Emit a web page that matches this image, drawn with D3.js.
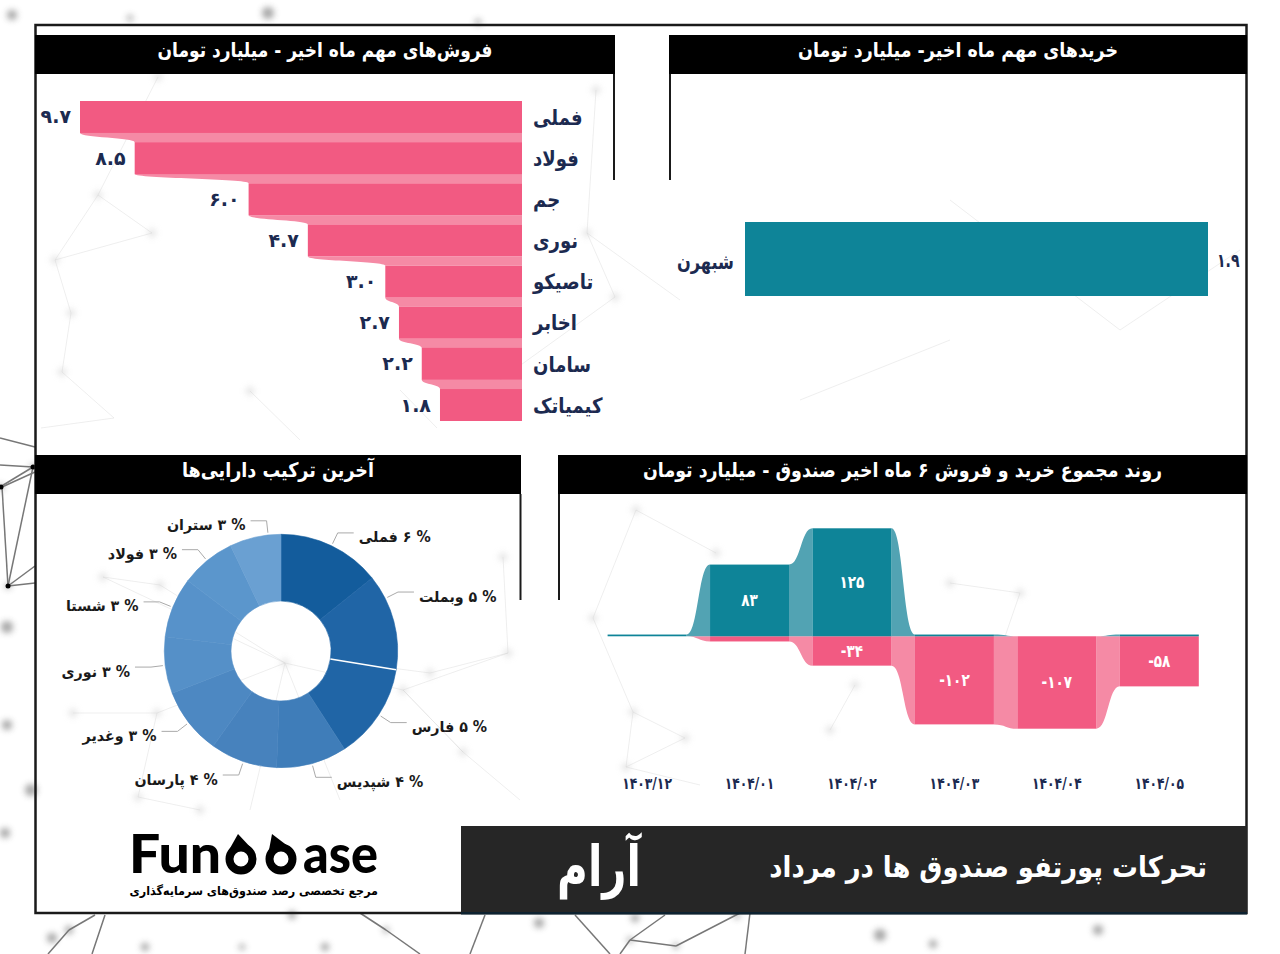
<!DOCTYPE html>
<html>
<head>
<meta charset="utf-8">
<script src="https://cdn.jsdelivr.net/npm/d3@7"></script>
<style>
  body { margin: 0; background: #fff; }
  svg { display: block; font-family: "DejaVu Sans", sans-serif; }
  text { direction: rtl; }
  .ltr { direction: ltr; }
</style>
</head>
<body>
<svg id="chart" width="1280" height="954"></svg>
<script>
// sales panel
var saleNames = ["فملی", "فولاد", "جم", "نوری", "تاصیکو", "اخابر", "سامان", "کیمیاتک"];
var saleValues = [9.7, 8.5, 6.0, 4.7, 3.0, 2.7, 2.2, 1.8];

// purchases panel
var buyNames = ["شبهرن"];
var buyValues = [1.9];

// portfolio donut
var assetNames = ["فملی", "وبملت", "فارس", "شپدیس", "پارسان", "وغدیر", "نوری", "شستا", "فولاد", "ستران"];
var assetValues = [6.0, 5.6, 5.6, 4.1, 3.9, 3.9, 3.3, 3.5, 3.2, 3.0];
var assetLabels = [6, 5, 5, 4, 4, 3, 3, 3, 3, 3];
var assetColors = ["#135c9c", "#2065a6", "#2065a6", "#3f7db9", "#4782bd", "#4d88c2", "#5590c8", "#5792ca", "#5b96cc", "#6aa0d2"];
var leaderNudge = [0, -12, 0, 0, 0, 0, 0, 0, 0, 6.5];

// six month trend
var months = ["1403/12", "1404/01", "1404/02", "1404/03", "1404/04", "1404/05"];
var trendBuy = [2, 83, 125, 2, 0, 2];
var trendSell = [0, -6, -34, -102, -107, -58];

// background decoration, dark part outside the frame
var bgDark = [[33,467,0,487],[33,467,8,586],[2,487,8,586],[8,586,35,583],[0,465,33,467],[8,586,35,566],[2,487,35,472],[0,438,35,447],
  [69,930,95,915],[69,930,48,954],[92,954,105,915],[630,940,676,946],[630,940,665,915],[620,954,630,940],[676,946,740,913],[386,930,360,913],[386,930,420,954],[470,954,485,915],[610,954,575,915],[745,954,750,913]];
var bgDots = [[33,467,3],[1,487,3],[8,586,3],[7,627,6],[7,725,5],[31,790,6],[5,833,5],[52,938,5],[69,930,4],[292,915,4],[386,930,3],[539,923,5],[630,940,3],[676,946,3],[635,918,4],[737,916,3],[933,944,4],[1098,930,5],[145,947,4],[242,947,3],[325,947,4],[880,935,6],[12,15,5],[130,18,3],[268,13,6],[478,22,3]];
// faint part inside the frame
var bgFaint = [[158,77,98,195],[98,195,152,233],[98,195,55,260],[152,233,55,260],[55,260,71,313],[71,313,62,372],[62,372,114,418],[250,391,300,440],[114,418,41,428],[587,233,615,297],[596,90,587,233],[587,233,680,300],[615,297,500,380],[437,428,400,390],
  [285,663,103,577],[103,577,160,585],[160,585,285,663],[285,663,157,713],[157,713,73,713],[157,713,138,797],[138,797,200,810],[285,663,250,810],[285,663,340,800],[508,653,403,690],[403,690,463,752],[430,673,508,653],[503,557,508,653],[463,752,403,690],[463,752,520,800],[403,690,285,663],
  [593,618,636,510],[593,618,633,712],[633,712,685,738],[685,738,626,767],[633,712,626,767],[1020,593,950,583],[855,685,830,730],[716,553,636,510],[626,767,700,785],[1020,593,990,680],[430,673,330,660],[950,200,1120,330],[1120,330,1240,250],[800,400,950,340]];
var bgFaintDots = [[158,77],[98,195],[152,233],[55,260],[71,313],[62,372],[250,391],[587,233],[615,297],[596,90],[285,663],[103,577],[160,585],[157,713],[73,713],[138,797],[200,810],[508,653],[403,690],[463,752],[430,673],[503,557],[593,618],[636,510],[633,712],[685,738],[626,767],[1020,593],[950,583],[855,685],[830,730],[716,553]];

var toFa = s => String(s).replace(/\d/g, d => "۰۱۲۳۴۵۶۷۸۹"[d]);
var navy = "#1c2a50", pink = "#f25a82", pinkLight = "#f58aa5", teal = "#0e8498", tealLight = "#52a3b3";

// the only Arabic face here is wide, so narrow the glyphs to the reference widths
function squeeze(sel, k) {
  sel.each(function() {
    this.setAttribute("textLength", this.getComputedTextLength() * k);
    this.setAttribute("lengthAdjust", "spacingAndGlyphs");
  });
}

var svg = d3.select("#chart");
var defs = svg.append("defs");
defs.append("filter").attr("id", "soft")
  .attr("x", "-200%").attr("y", "-200%").attr("width", "500%").attr("height", "500%")
  .append("feGaussianBlur").attr("stdDeviation", 3);

// background
var bg = svg.append("g");
bg.selectAll("line.faint").data(bgFaint).join("line").attr("class", "faint")
  .attr("x1", d => d[0]).attr("y1", d => d[1]).attr("x2", d => d[2]).attr("y2", d => d[3])
  .attr("stroke", "#dedede").attr("stroke-width", 1).attr("opacity", .5);
bg.selectAll("circle.faint").data(bgFaintDots).join("circle").attr("class", "faint")
  .attr("cx", d => d[0]).attr("cy", d => d[1]).attr("r", 4)
  .attr("fill", "#cfcfcf").attr("opacity", .6).attr("filter", "url(#soft)");
bg.selectAll("circle.blur").data(bgDots).join("circle").attr("class", "blur")
  .attr("cx", d => d[0]).attr("cy", d => d[1]).attr("r", d => d[2])
  .attr("fill", "#666").attr("opacity", .6).attr("filter", "url(#soft)");
bg.selectAll("line.dark").data(bgDark).join("line").attr("class", "dark")
  .attr("x1", d => d[0]).attr("y1", d => d[1]).attr("x2", d => d[2]).attr("y2", d => d[3])
  .attr("stroke", "#777").attr("stroke-width", 1.5);
bg.selectAll("circle.dark").data(bgDots.slice(0, 3)).join("circle").attr("class", "dark")
  .attr("cx", d => d[0]).attr("cy", d => d[1]).attr("r", 2.5).attr("fill", "#000");

// outer frame
svg.append("rect").attr("x", 35.5).attr("y", 25).attr("width", 1211).attr("height", 888)
  .attr("fill", "none").attr("stroke", "#1a1a1a").attr("stroke-width", 2.5);

function panelHead(x, y, w, title, lineX, titleWidth) {
  svg.append("rect").attr("x", x).attr("y", y).attr("width", w).attr("height", 39).attr("fill", "#000");
  svg.append("text").attr("x", x + w / 2).attr("y", y + 16.5).attr("text-anchor", "middle")
    .attr("dominant-baseline", "middle").attr("fill", "#fff").attr("font-size", 20).attr("font-weight", "bold")
    .attr("textLength", titleWidth).attr("lengthAdjust", "spacingAndGlyphs").text(title);
  // short side line under the header
  svg.append("line").attr("x1", lineX).attr("x2", lineX).attr("y1", y + 39).attr("y2", y + 145)
    .attr("stroke", "#1a1a1a").attr("stroke-width", 2);
}
panelHead(35, 35, 580, "فروش‌های مهم ماه اخیر - میلیارد تومان", 614, 335);
panelHead(669, 35, 578, "خریدهای مهم ماه اخیر- میلیارد تومان", 670, 320);
panelHead(35, 455, 486, "آخرین ترکیب دارایی‌ها", 520.5, 192);
panelHead(558, 455, 689, "روند مجموع خرید و فروش ۶ ماه اخیر صندوق - میلیارد تومان", 559, 519);

// sales bars, growing to the left
var saleX = d3.scaleLinear().domain([0, 9.7]).range([522, 80]);
var saleY = d3.scaleBand().domain(saleNames).range([101, 421]).paddingInner(.223);
var saleLink = d3.area().curve(d3.curveBumpY).y(d => d.y).x0(d => d.x).x1(saleX(0));

saleValues.slice(1).forEach(function(v, i) {
  var y0 = saleY(saleNames[i]) + saleY.bandwidth();
  var y1 = saleY(saleNames[i + 1]);
  svg.append("path").attr("fill", pinkLight)
    .attr("d", saleLink([{ y: y0, x: saleX(saleValues[i]) }, { y: y1, x: saleX(v) }]));
});
svg.selectAll("rect.sale").data(saleValues).join("rect").attr("class", "sale")
  .attr("x", d => saleX(d)).attr("width", d => saleX(0) - saleX(d))
  .attr("y", (d, i) => saleY(saleNames[i])).attr("height", saleY.bandwidth()).attr("fill", pink);
svg.selectAll("text.saleVal").data(saleValues).join("text").attr("class", "saleVal ltr")
  .attr("x", d => saleX(d) - 9).attr("y", (d, i) => saleY(saleNames[i]) + saleY.bandwidth() / 2 + 1)
  .attr("text-anchor", "end").attr("dominant-baseline", "middle")
  .attr("fill", navy).attr("font-size", 19).attr("font-weight", "bold").text(d => toFa(d.toFixed(1)));

var saleAxis = svg.append("g").attr("transform", `translate(${saleX(0)},1)`)
  .call(d3.axisRight(saleY).tickSize(0).tickPadding(11));
saleAxis.select(".domain").remove();
saleAxis.selectAll("text").attr("text-anchor", "end").attr("fill", navy)
  .attr("font-family", "DejaVu Sans").attr("font-size", 21).attr("font-weight", "bold")
  .call(squeeze, .86);

// purchases bar
var buyX = d3.scaleLinear().domain([0, 1.9]).range([745, 1208]);
var buyY = d3.scaleBand().domain(buyNames).range([222, 296]);
svg.selectAll("rect.buy").data(buyValues).join("rect").attr("class", "buy")
  .attr("x", buyX(0)).attr("width", d => buyX(d) - buyX(0))
  .attr("y", (d, i) => buyY(buyNames[i])).attr("height", buyY.bandwidth()).attr("fill", teal);
svg.selectAll("text.buyVal").data(buyValues).join("text").attr("class", "buyVal ltr")
  .attr("x", d => buyX(d) + 9).attr("y", 261).attr("dominant-baseline", "middle")
  .attr("fill", navy).attr("font-size", 19).attr("font-weight", "bold").text(d => toFa(d.toFixed(1)))
  .call(squeeze, .74);
svg.append("text").attr("x", buyX(0) - 11).attr("y", 263).attr("text-anchor", "start")
  .attr("dominant-baseline", "middle").attr("fill", navy).attr("font-size", 21).attr("font-weight", "bold").text(buyNames[0])
  .call(squeeze, .77);

// donut
var cx = 281, cy = 651, outerR = 116.7;
var pie = d3.pie().sort(null)(assetValues);
var arc = d3.arc().innerRadius(50).outerRadius(outerR);
var donut = svg.append("g").attr("transform", `translate(${cx},${cy})`);
donut.selectAll("path").data(pie).join("path")
  .attr("d", arc).attr("fill", (d, i) => assetColors[i])
  .attr("stroke", (d, i) => assetColors[i]).attr("stroke-width", .6);
// the reference has one white seam, between the second and third slices
var seam = pie[1].endAngle;
donut.append("line")
  .attr("x1", 50 * Math.sin(seam)).attr("y1", -50 * Math.cos(seam))
  .attr("x2", outerR * Math.sin(seam)).attr("y2", -outerR * Math.cos(seam))
  .attr("stroke", "#fff").attr("stroke-width", 1.5);

pie.forEach(function(d, i) {
  var a = (d.startAngle + d.endAngle) / 2 + leaderNudge[i] * Math.PI / 180;
  var right = a < Math.PI;
  var p0 = [119 * Math.sin(a), -119 * Math.cos(a)];
  var p1 = [131 * Math.sin(a), -131 * Math.cos(a)];
  var p2 = [p1[0] + (right ? 16 : -16), p1[1]];
  donut.append("path").attr("d", d3.line()([p0, p1, p2])).attr("fill", "none")
    .attr("stroke", "#aaa").attr("stroke-width", 1);
  donut.append("text").attr("x", p2[0] + (right ? 5 : -5)).attr("y", p2[1] + 5)
    .attr("text-anchor", right ? "end" : "start").attr("dominant-baseline", "middle")
    .attr("fill", "#1a1a1a").attr("font-size", 15).attr("font-weight", "bold")
    .text("% " + toFa(assetLabels[i]) + " " + assetNames[i])
    .call(squeeze, .95);
});

// trend, stacked around zero
var trendX = d3.scaleBand().domain(months).range([607.6, 1198.8]).paddingInner(.229);
var trendY = d3.scaleLinear().domain([-107, 125]).range([728.7, 528.3]);
var trendLink = d3.area().curve(d3.curveBumpX).x(d => d.x).y0(trendY(0)).y1(d => d.y);

function drawSeries(values, barColor, linkColor) {
  values.slice(1).forEach(function(v, i) {
    var x0 = trendX(months[i]) + trendX.bandwidth();
    var x1 = trendX(months[i + 1]);
    svg.append("path").attr("fill", linkColor)
      .attr("d", trendLink([{ x: x0, y: trendY(values[i]) }, { x: x1, y: trendY(v) }]));
  });
  svg.append("g").selectAll("rect").data(values).join("rect")
    .attr("x", (d, i) => trendX(months[i])).attr("width", trendX.bandwidth())
    .attr("y", d => Math.min(trendY(d), trendY(0))).attr("height", d => Math.abs(trendY(d) - trendY(0)))
    .attr("fill", barColor);
}
drawSeries(trendSell, pink, pinkLight);
drawSeries(trendBuy, teal, tealLight);

function trendLabels(values) {
  svg.append("g").selectAll("text").data(values).join("text").attr("class", "ltr")
    .filter(d => Math.abs(d) > 20)
    .attr("x", d => trendX(months[values.indexOf(d)]) + trendX.bandwidth() / 2)
    .attr("y", d => (trendY(d) + trendY(0)) / 2 + 1)
    .attr("text-anchor", "middle").attr("dominant-baseline", "middle")
    .attr("fill", "#fff").attr("font-size", 17).attr("font-weight", "bold").text(d => toFa(d))
    .call(squeeze, .8);
}
trendLabels(trendBuy);
trendLabels(trendSell);

var monthAxis = svg.append("g").attr("transform", "translate(0,775)")
  .call(d3.axisBottom(trendX).tickSize(0).tickPadding(3).tickFormat(toFa));
monthAxis.select(".domain").remove();
monthAxis.selectAll("text").attr("class", "ltr").attr("fill", navy)
  .attr("font-family", "DejaVu Sans").attr("font-size", 16).attr("font-weight", "bold")
  .call(squeeze, .77);

// footer
svg.append("rect").attr("x", 461).attr("y", 826).attr("width", 786).attr("height", 88).attr("fill", "#262626");
svg.append("rect").attr("x", 461).attr("y", 912).attr("width", 786).attr("height", 2.5).attr("fill", "#0d2230");
svg.append("text").attr("x", 599).attr("y", 871).attr("text-anchor", "middle").attr("dominant-baseline", "middle")
  .attr("fill", "#fff").attr("font-size", 56).attr("font-weight", "bold").text("آرام")
  .call(squeeze, .75);
svg.append("text").attr("x", 1207).attr("y", 869).attr("text-anchor", "start").attr("dominant-baseline", "middle")
  .attr("fill", "#fff").attr("font-size", 29).attr("font-weight", "bold").text("تحرکات پورتفو صندوق ها در مرداد")
  .call(squeeze, .89);

// logo
var logo = svg.append("g").attr("fill", "#000");
logo.append("text").attr("class", "ltr").attr("x", 129).attr("y", 873).attr("font-family", "Lato").attr("font-weight", 900)
  .attr("font-size", 54).attr("textLength", 92).attr("lengthAdjust", "spacingAndGlyphs").text("Fun");
logo.append("text").attr("class", "ltr").attr("x", 303).attr("y", 873).attr("font-family", "Lato").attr("font-weight", 900)
  .attr("font-size", 54).attr("textLength", 75).attr("lengthAdjust", "spacingAndGlyphs").text("ase");
[[241, 238], [281, 272]].forEach(function(r) {
  logo.append("circle").attr("cx", r[0]).attr("cy", 859).attr("r", 11.5).attr("fill", "none").attr("stroke", "#000").attr("stroke-width", 8);
  logo.append("path").attr("d", `M${r[0] - 12},850 L${r[1]},834 L${r[0] + 12},850 Z`);
});
svg.append("text").attr("x", 378).attr("y", 891).attr("text-anchor", "start").attr("dominant-baseline", "middle")
  .attr("fill", "#000").attr("font-size", 12).attr("font-weight", "bold").text("مرجع تخصصی رصد صندوق‌های سرمایه‌گذاری")
  .call(squeeze, .93);
</script>
</body>
</html>
